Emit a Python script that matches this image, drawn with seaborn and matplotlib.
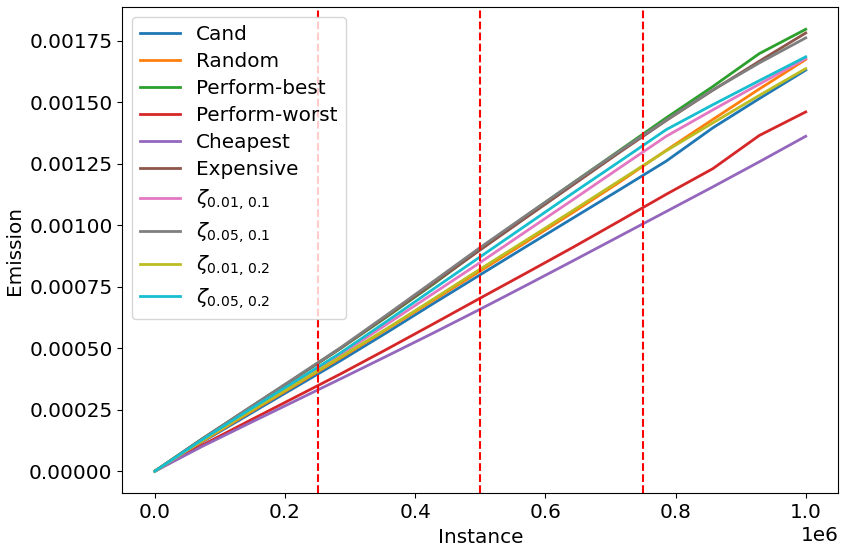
import numpy as np
import pandas as pd
import seaborn as sns
import matplotlib
matplotlib.use('Agg')
import matplotlib.pyplot as plt

plt.rcParams['font.size'] = 14.4

# instance checkpoints
instances = [0, 71429, 142857, 214286, 285714, 357143, 428571, 500000,
             571429, 642857, 714286, 785714, 857143, 928571, 1000000]

# emissions (x1e-3) for each strategy
cand = [0, 0.117, 0.228, 0.339, 0.450, 0.565, 0.683, 0.799, 0.915, 1.030, 1.145, 1.261, 1.396, 1.515, 1.631]
random_ = [0, 0.119, 0.234, 0.347, 0.461, 0.578, 0.696, 0.814, 0.933, 1.053, 1.176, 1.305, 1.430, 1.554, 1.674]
perform_best = [0, 0.129, 0.252, 0.376, 0.500, 0.629, 0.762, 0.903, 1.040, 1.173, 1.305, 1.437, 1.564, 1.698, 1.797]
perform_worst = [0, 0.104, 0.202, 0.299, 0.396, 0.497, 0.600, 0.704, 0.807, 0.911, 1.018, 1.126, 1.230, 1.365, 1.461]
cheapest = [0, 0.099, 0.192, 0.284, 0.376, 0.469, 0.563, 0.659, 0.757, 0.856, 0.956, 1.056, 1.156, 1.258, 1.362]
expensive = [0, 0.129, 0.253, 0.376, 0.501, 0.632, 0.765, 0.900, 1.033, 1.165, 1.297, 1.426, 1.549, 1.667, 1.782]
zeta_001_01 = [0, 0.124, 0.242, 0.358, 0.475, 0.599, 0.724, 0.849, 0.977, 1.105, 1.234, 1.362, 1.469, 1.574, 1.678]
zeta_005_01 = [0, 0.129, 0.254, 0.378, 0.503, 0.637, 0.773, 0.910, 1.042, 1.173, 1.303, 1.428, 1.550, 1.660, 1.762]
zeta_001_02 = [0, 0.122, 0.238, 0.351, 0.465, 0.581, 0.701, 0.822, 0.941, 1.061, 1.182, 1.303, 1.416, 1.528, 1.637]
zeta_005_02 = [0, 0.126, 0.246, 0.363, 0.482, 0.611, 0.742, 0.872, 1.002, 1.132, 1.260, 1.389, 1.490, 1.588, 1.685]

labels = ['Cand', 'Random', 'Perform-best', 'Perform-worst', 'Cheapest', 'Expensive',
          r'$\zeta_{0.01,\,0.1}$', r'$\zeta_{0.05,\,0.1}$', r'$\zeta_{0.01,\,0.2}$', r'$\zeta_{0.05,\,0.2}$']
series = [cand, random_, perform_best, perform_worst, cheapest, expensive,
          zeta_001_01, zeta_005_01, zeta_001_02, zeta_005_02]

checkpoints = [250000, 500000, 750000]

palette = sns.color_palette('tab10', len(labels))

fig, ax = plt.subplots(figsize=(8.47, 5.53), dpi=100)
for label, values, color in zip(labels, series, palette):
    sns.lineplot(x=instances, y=np.array(values) * 1e-3, label=label, color=color, ax=ax, linewidth=2)

for c in checkpoints:
    ax.axvline(c, color='red', linestyle='--', linewidth=1.5)

ax.set_xlabel('Instance')
ax.set_ylabel('Emission')
ax.legend(loc='upper left', labelspacing=0.4)

fig.subplots_adjust(left=0.1444, right=0.9897, top=0.987, bottom=0.108)
fig.savefig('out.png', dpi=100)
